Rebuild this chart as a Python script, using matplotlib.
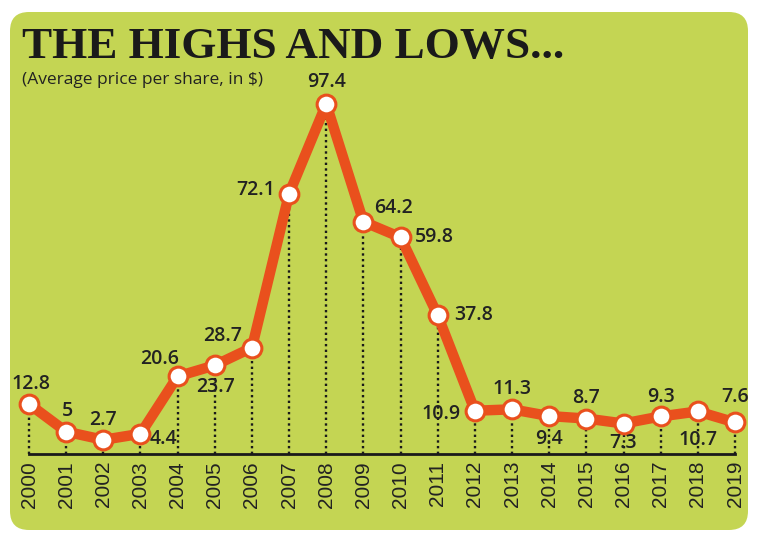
import matplotlib
matplotlib.use("Agg")
import matplotlib.pyplot as plt
from matplotlib.patches import FancyBboxPatch

years = list(range(2000, 2020))
prices = [12.8, 5, 2.7, 4.4, 20.6, 23.7, 28.7, 72.1, 97.4, 64.2,
          59.8, 37.8, 10.9, 11.3, 9.4, 8.7, 7.3, 9.3, 10.7, 7.6]
labels = ["12.8", "5", "2.7", "4.4", "20.6", "23.7", "28.7", "72.1", "97.4", "64.2",
          "59.8", "37.8", "10.9", "11.3", "9.4", "8.7", "7.3", "9.3", "10.7", "7.6"]
title = "THE HIGHS AND LOWS..."
subtitle = "(Average price per share, in $)"

# label offsets in pixels (dx, dy)
offsets = [(2, 20), (1, 21), (0, 20), (23, -5), (-18, 17), (1, -22), (-29, 12),
           (-33, 4), (0, 22), (30, 14), (34, 0), (36, 0), (-34, -3), (0, 20),
           (0, -23), (0, 21), (0, -19), (0, 19), (0, -29), (0, 25)]

W, H = 760, 542
fig = plt.figure(figsize=(W / 100, H / 100), dpi=100)
fig.patch.set_facecolor("white")

green = "#c4d553"
bg = FancyBboxPatch((10 / W, 12 / H), 738 / W, 518 / H,
                    boxstyle="round,pad=0,rounding_size=0.025",
                    transform=fig.transFigure, facecolor=green, edgecolor="none",
                    mutation_aspect=W / H, zorder=-10)
fig.patches.append(bg)

left, right = 29, 735
bottom_px, top_px = 454, 104
ax = fig.add_axes([left / W, 1 - bottom_px / H, (right - left) / W, (bottom_px - top_px) / H])
ax.set_zorder(2)
ax.set_facecolor("none")
ymin = -1.3
ax.set_xlim(2000, 2019)
ax.set_ylim(ymin, 97.4)

for s in ["top", "left", "right"]:
    ax.spines[s].set_visible(False)
ax.spines["bottom"].set_linewidth(2.0)
ax.spines["bottom"].set_color("#1a1a1a")
ax.spines["bottom"].set_zorder(2)
ax.set_yticks([])
ax.set_xticks(years)
ax.set_xticklabels([str(y) for y in years], rotation=90, fontsize=15,
                   family="Liberation Sans", color="#222222")
ax.tick_params(axis="x", length=0, pad=5)

ax.vlines(years, ymin, prices, colors="#1a1a1a", linestyles=(0, (1, 1.4)),
          linewidth=1.7, zorder=1, clip_on=False)
ax.plot(years, prices, color="#e9501d", linewidth=7.5, solid_joinstyle="round",
        zorder=3, clip_on=False)
ax.plot(years, prices, linestyle="none", marker="o", markersize=13.5,
        markerfacecolor="white", markeredgecolor="#e9501d", markeredgewidth=2.2,
        zorder=4, clip_on=False)

for x, y, lab, (dx, dy) in zip(years, prices, labels, offsets):
    ax.annotate(lab, (x, y), xytext=(dx, dy), textcoords="offset pixels",
                ha="center", va="center", fontsize=14, fontweight="semibold",
                family=["Open Sans", "Liberation Sans"], color="#222222", zorder=5)

fig.text(22 / W, 1 - 58 / H, title, fontsize=32.5, fontweight="bold",
         family="Liberation Serif", color="#1a1a1a", va="baseline", ha="left")
fig.text(22 / W, 1 - 84 / H, subtitle, fontsize=12.5,
         family=["Open Sans", "Liberation Sans"], color="#222222", va="baseline", ha="left")

fig.savefig("out.png", dpi=100, facecolor="white")
